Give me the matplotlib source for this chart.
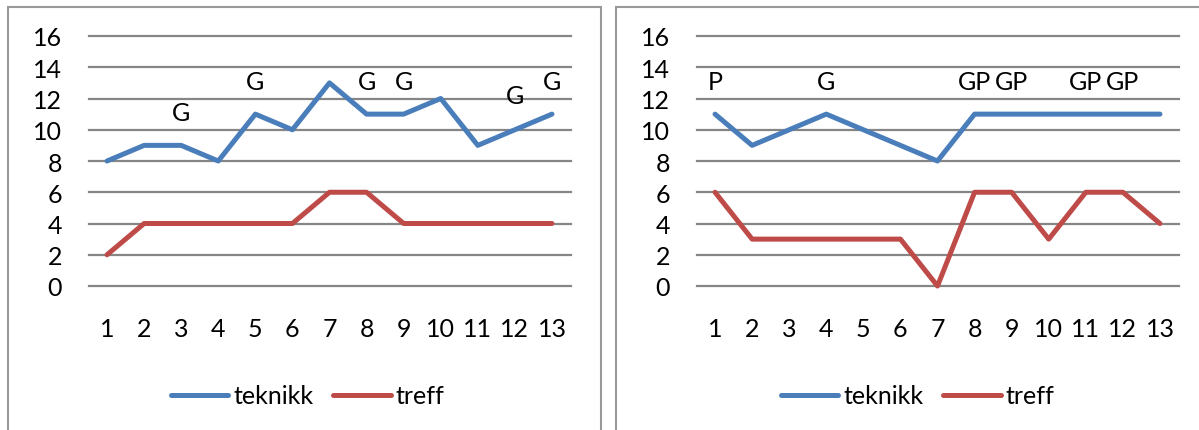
import numpy as np
import matplotlib
matplotlib.use('Agg')
import matplotlib.pyplot as plt
from matplotlib.patches import Rectangle

#DATA
rounds = list(range(1, 14))

left_teknikk = [8, 9, 9, 8, 11, 10, 13, 11, 11, 12, 9, 10, 11]
left_treff = [2, 4, 4, 4, 4, 4, 6, 6, 4, 4, 4, 4, 4]
left_marks = ['', '', 'G', '', 'G', '', '', 'G', 'G', '', '', 'G', 'G']
left_mark_y = [0, 0, 11.1, 0, 13.1, 0, 0, 13.1, 13.1, 0, 0, 12.2, 13.1]

right_teknikk = [11, 9, 10, 11, 10, 9, 8, 11, 11, 11, 11, 11, 11]
right_treff = [6, 3, 3, 3, 3, 3, 0, 6, 6, 3, 6, 6, 4]
right_marks = ['P', '', '', 'G', '', '', '', 'GP', 'GP', '', 'GP', 'GP', '']
right_mark_y = [13.1, 0, 0, 13.1, 0, 0, 0, 13.1, 13.1, 0, 13.1, 13.1, 0]

y_ticks = [0, 2, 4, 6, 8, 10, 12, 14, 16]

#STYLE
blue = '#4a7ebb'
red = '#be4b48'
grid_c = '#868686'
frame_c = '#999999'
fsize = 18

plt.rcParams['font.family'] = ['Lato', 'DejaVu Sans']
plt.rcParams['font.size'] = fsize

W, H = 1199, 431
fig = plt.figure(figsize=(W / 100, H / 100), dpi=100)

# chart frames (px in image coordinates, y measured from top)
for x0, x1 in [(8, 601), (616, W + 5)]:
    fig.patches.append(Rectangle((x0 / W, -0.05), (x1 - x0) / W, 1.05 - 8 / H,
                                 transform=fig.transFigure, fill=False,
                                 edgecolor=frame_c, linewidth=1.5))


def draw_chart(left_px, teknikk, treff, marks, mark_y, legend_x):
    ax = fig.add_axes([left_px / W, (H - 287) / H, 482 / W, 250 / H])
    ax.set_xlim(0.5, 13.5)
    ax.set_ylim(0, 16)
    for s in ax.spines.values():
        s.set_visible(False)
    ax.set_yticks(y_ticks)
    ax.set_xticks(rounds)
    ax.tick_params(length=0)
    ax.tick_params(axis='y', pad=19)
    ax.tick_params(axis='x', pad=22)
    for t in y_ticks:
        ax.axhline(t, color=grid_c, linewidth=1.6, zorder=1, clip_on=False)

    ax.plot(rounds, teknikk, color=blue, linewidth=3.6, solid_joinstyle='round',
            solid_capstyle='round', label='teknikk', zorder=3, clip_on=False)
    ax.plot(rounds, treff, color=red, linewidth=3.6, solid_joinstyle='round',
            solid_capstyle='round', label='treff', zorder=3, clip_on=False)

    for x, txt, y in zip(rounds, marks, mark_y):
        if txt:
            ax.text(x, y, txt, ha='center', va='center', fontsize=fsize, zorder=4)

    ax.legend(loc='center', bbox_to_anchor=(legend_x, (287 - 397) / 250), ncol=2,
              frameon=False, handlelength=2.3, handletextpad=0.2,
              columnspacing=0.8, fontsize=fsize)
    return ax


draw_chart(88.5, left_teknikk, left_treff, left_marks, left_mark_y, 0.455)
draw_chart(696.5, right_teknikk, right_treff, right_marks, right_mark_y, 0.459)

plt.savefig('out.png', dpi=100)
